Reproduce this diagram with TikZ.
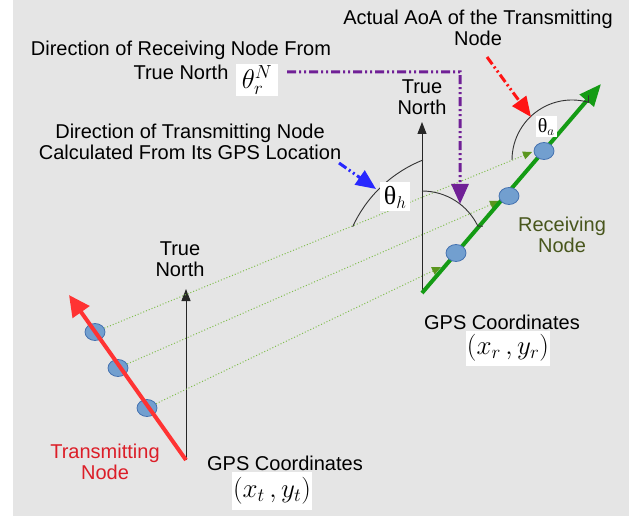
\RequirePackage{fix-cm}
\documentclass[tikz,border=0pt]{standalone}
\usepackage{fontspec}
\setmainfont{Liberation Sans}
\newfontfamily\thetafont{Liberation Serif}
\usetikzlibrary{arrows.meta, positioning, shapes.geometric, calc}

\definecolor{bggray}{RGB}{229,229,229}
\definecolor{txred}{RGB}{255,51,51}
\definecolor{txtext}{RGB}{220,30,40}
\definecolor{rxgreen}{RGB}{20,155,20}
\definecolor{rxtext}{RGB}{72,86,28}
\definecolor{dotblue}{RGB}{114,159,207}
\definecolor{dotedge}{RGB}{69,114,176}
\definecolor{raygreen}{RGB}{130,190,80}
\definecolor{rayhead}{RGB}{90,150,30}
\definecolor{ptrpurple}{RGB}{112,32,150}
\definecolor{ptrblue}{RGB}{40,40,255}
\definecolor{ptrred}{RGB}{255,20,20}

\tikzset{
  lbl/.style={font=\fontsize{20bp}{21bp}\selectfont, align=center, inner sep=0pt},
  gpsdot/.style={ellipse, minimum width=20bp, minimum height=17bp, inner sep=0pt, fill=dotblue, draw=dotedge, line width=0.8bp},
  anglebox/.style={fill=white, inner sep=1bp},
  anglearc/.style={draw=black!80, line width=0.9bp},
  northarrow/.style={draw=black!85, line width=1bp, -{Triangle[length=12bp,width=9bp]}},
  ray/.style={draw=raygreen, line width=1bp, dash pattern=on 1bp off 2bp, -{Triangle[length=9bp,width=8bp,color=rayhead]}},
  pointer/.style={line width=3bp, dash pattern=on 9bp off 3bp on 2bp off 3bp on 2bp off 3bp, -{Triangle[length=20bp,width=17bp]}}
}

\begin{document}
\begin{tikzpicture}[x=1bp, y=-1bp]
  \useasboundingbox (0,0) rectangle (639,518);
  \fill[bggray] (13,0) rectangle (629,516);

  % base points and tips
  \coordinate (txbase) at (186,460);
  \coordinate (txnorth) at (186,289);
  \coordinate (txtip) at (69,295);
  \coordinate (rxbase) at (422,293);
  \coordinate (rxnorth) at (422,122);
  \coordinate (rxtip) at (601,84);

  % transmitter side
  \node[gpsdot] (t1) at (95,332) {};
  \node[gpsdot] (t2) at (118,368) {};
  \node[gpsdot] (t3) at (147,408) {};
  \draw[northarrow] (txbase) -- (txnorth);
  \draw[txred, line width=4bp, -{Triangle[length=21bp,width=20bp]}] (txbase) -- (txtip);

  % rays towards the receiver
  \coordinate (r1) at (532,152);
  \coordinate (r2) at (499,201);
  \coordinate (r3) at (441,267);
  \draw[ray] (t1) -- (r1);
  \draw[ray] (t2) -- (r2);
  \draw[ray] (t3) -- (r3);

  % receiver side
  \draw[northarrow] (rxbase) -- (rxnorth);
  \draw[rxgreen, line width=4bp, -{Triangle[length=22bp,width=18bp]}] (rxbase) -- (rxtip);
  \node[gpsdot] (g1) at (544,151) {};
  \node[gpsdot] (g2) at (509,196) {};
  \node[gpsdot] (g3) at (456,253) {};

  % angles
  \draw[anglearc] (423,160) arc[start angle=111.6, end angle=155.4, radius=130bp];
  \draw[anglearc] (422,191) arc[start angle=90, end angle=25.7, radius=62bp] -- ++(5,0);
  \draw[anglearc] (512,160) arc[start angle=180, end angle=74, radius=60bp] -- ++(0,-7);
  \node[anglebox, minimum width=30bp, minimum height=29bp] (thh) at (395,197)
    {\fontsize{26bp}{26bp}\selectfont\thetafont θ\raisebox{-4bp}{\fontsize{17bp}{17bp}\selectfont$h$}};
  \node[anglebox, minimum width=21bp, minimum height=21bp] (tha) at (546,127)
    {\fontsize{20bp}{20bp}\selectfont\thetafont θ\raisebox{-3bp}{\fontsize{13bp}{13bp}\selectfont$a$}};
  \node[anglebox, minimum width=42bp, minimum height=32bp, inner sep=0pt] (thr) at (257,80)
    {\fontsize{27bp}{27bp}\selectfont$\theta_{r}^{N}$};
  \node[anglebox, minimum width=77bp, minimum height=38bp] (xyt) at (272,491)
    {\fontsize{27bp}{27bp}\selectfont$\big(x_{t}\,,y_{t}\big)$};
  \node[anglebox, minimum width=75bp, minimum height=35bp] (xyr) at (508,348)
    {\fontsize{27bp}{27bp}\selectfont$\big(x_{r}\,,y_{r}\big)$};

  % texts
  \node[lbl] (rxdirtop) at (181,50) {Direction of Receiving Node From};
  \node[lbl] (rxdirbot) at (181,72) {True North};
  \node[lbl] (txdirtext) at (190,142) {Direction of Transmitting Node\\Calculated From Its GPS Location};
  \node[lbl] (aoatext) at (478,28) {Actual AoA of the Transmitting\\Node};
  \node[lbl] (rxnorthtext) at (422,97) {True\\North};
  \node[lbl] (txnorthtext) at (180,259) {True\\North};
  \node[lbl, text=txtext] (txname) at (105,462) {Transmitting\\Node};
  \node[lbl, text=rxtext] (rxname) at (562,235) {Receiving\\Node};
  \node[lbl] (txgps) at (285,463) {GPS Coordinates};
  \node[lbl] (rxgps) at (502,322) {GPS Coordinates};

  % pointers
  \coordinate (pbend) at (460,72);
  \coordinate (ptip) at (460,204);
  \coordinate (bstart) at (339,163);
  \coordinate (btip) at (376,189);
  \coordinate (rstart) at (487,57);
  \coordinate (rtip) at (531,117);
  \draw[pointer, ptrpurple] ([xshift=9bp, yshift=8bp]thr.east) -- (pbend) -- (ptip);
  \draw[pointer, ptrblue] (bstart) -- (btip);
  \draw[pointer, ptrred] (rstart) -- (rtip);
\end{tikzpicture}
\end{document}
